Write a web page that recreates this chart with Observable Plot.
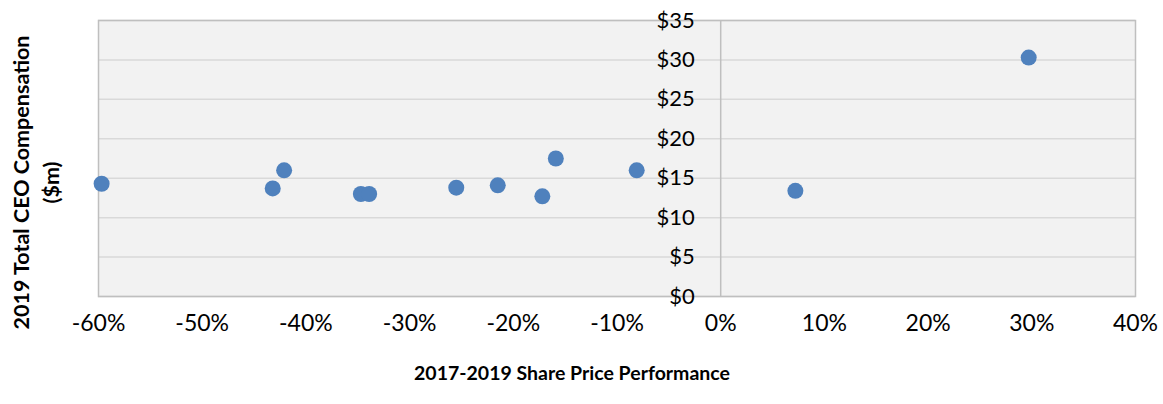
<!DOCTYPE html>
<html>
<head>
<meta charset="utf-8">
<script src="https://cdn.jsdelivr.net/npm/d3@7"></script>
<script src="https://cdn.jsdelivr.net/npm/@observablehq/plot@0.6"></script>
<style>
  html, body { margin: 0; padding: 0; background: #ffffff; }
  #chart svg { display: block; }
</style>
</head>
<body>
<div id="chart"></div>
<script>
// Share price performance 2017-2019 (%)
const performance = [-59.7, -43.2, -42.1, -34.7, -33.9, -25.5, -21.5, -17.2, -15.9, -8.1, 7.2, 29.7];
// 2019 total CEO compensation ($m)
const compensation = [14.3, 13.7, 16.0, 13.0, 13.0, 13.8, 14.1, 12.7, 17.5, 16.0, 13.4, 30.3];
const xTicks = [-60, -50, -40, -30, -20, -10, 0, 10, 20, 30, 40];
const yTicks = [0, 5, 10, 15, 20, 25, 30, 35];
const xTitle = "2017-2019 Share Price Performance";
const yTitle = "2019 Total CEO Compensation\n($m)";

const data = performance.map((p, i) => ({x: p, y: compensation[i]}));
const font = "Lato, 'Open Sans', sans-serif";

const chart = Plot.plot({
  width: 1163,
  height: 404,
  marginLeft: 98,
  marginRight: 28,
  marginTop: 20,
  marginBottom: 108,
  style: {fontFamily: font, background: "#ffffff", color: "#000000"},
  x: {domain: [-60, 40], axis: null},
  y: {domain: [0, 35], axis: null},
  marks: [
    Plot.frame({fill: "#f2f2f2"}),
    Plot.ruleY(yTicks, {stroke: "#d9d9d9", strokeWidth: 1.5}),
    Plot.ruleX([0], {stroke: "#bfbfbf", strokeWidth: 1.5}),
    Plot.frame({stroke: "#bfbfbf", strokeWidth: 1.5}),
    Plot.dot(data, {x: "x", y: "y", r: 8, fill: "#4f81bd", stroke: "none"}),
    Plot.text(yTicks, {x: 0, y: d => d, text: d => "$" + d, textAnchor: "end", dx: -26, fontSize: 22, fill: "#000"}),
    Plot.text(xTicks, {x: d => d, frameAnchor: "bottom", dy: 34, text: d => d + "%", fontSize: 23, fill: "#000"}),
    Plot.text([xTitle], {frameAnchor: "bottom", dx: -45, dy: 83, text: d => d, fontSize: 19.5, fontWeight: "bold", fill: "#000"}),
    Plot.text([yTitle], {frameAnchor: "left", textAnchor: "middle", lineAnchor: "middle", dx: -64, dy: 24, rotate: -90, text: d => d, fontSize: 21.5, lineHeight: 1.4, fontWeight: "bold", fill: "#000"})
  ]
});
document.getElementById("chart").appendChild(chart);
</script>
</body>
</html>
